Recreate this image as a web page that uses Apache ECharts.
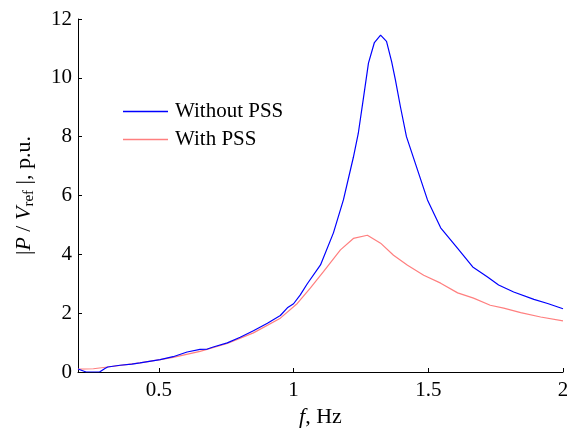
<!DOCTYPE html>
<html>
<head>
<meta charset="utf-8">
<script src="https://cdn.jsdelivr.net/npm/echarts@6/dist/echarts.min.js"></script>
<style>html,body{margin:0;padding:0;background:#fff}#c{width:567px;height:428px}</style>
</head>
<body>
<div id="c"></div>
<script>
const freqWithout = [0.2,0.215,0.23,0.28,0.3,0.31,0.356,0.4,0.43,0.505,0.553,0.605,0.653,0.68,0.702,0.754,0.802,0.851,0.903,0.951,0.977,1.0,1.025,1.051,1.10,1.148,1.185,1.222,1.24,1.26,1.278,1.30,1.323,1.345,1.364,1.378,1.397,1.419,1.46,1.497,1.546,1.609,1.665,1.72,1.761,1.817,1.892,1.943,2.0];
const magWithout = [0.1,0.05,0.0,0.0,0.12,0.17,0.23,0.27,0.31,0.42,0.52,0.68,0.77,0.78,0.85,0.99,1.18,1.4,1.66,1.92,2.18,2.32,2.62,3.0,3.64,4.73,5.85,7.3,8.1,9.35,10.5,11.2,11.45,11.24,10.55,9.93,9.0,8.0,6.87,5.85,4.9,4.2,3.57,3.23,2.96,2.72,2.47,2.33,2.15];
const freqWith = [0.2,0.257,0.31,0.43,0.505,0.553,0.653,0.754,0.851,0.951,1.014,1.062,1.111,1.174,1.222,1.274,1.323,1.371,1.423,1.483,1.546,1.609,1.668,1.73,1.78,1.843,1.917,2.0];
const magWith = [0.1,0.11,0.17,0.31,0.42,0.5,0.7,0.97,1.33,1.83,2.33,2.85,3.41,4.15,4.54,4.65,4.38,3.97,3.63,3.29,3.02,2.69,2.51,2.27,2.17,2.02,1.87,1.74];
const xTicks = [0.5,1,1.5,2];
const seriesNames = ['Without PSS','With PSS'];

const font = '"Liberation Serif","Times New Roman",serif';
const chart = echarts.init(document.getElementById('c'));
chart.setOption({
  animation:false,
  backgroundColor:'#fff',
  grid:{left:78,right:4,top:19,bottom:56,containLabel:false,outerBoundsMode:'none'},
  legend:{
    show:true, orient:'vertical', left:123, top:101, padding:0,
    icon:'rect', itemWidth:45, itemHeight:1.5, itemGap:7,
    textStyle:{fontFamily:font,fontSize:21,color:'#000',padding:[0,0,0,2]},
    data:seriesNames
  },
  xAxis:{
    type:'value', min:0.2, max:2,
    name:'{i|f}, Hz', nameLocation:'middle', nameGap:30,
    nameTextStyle:{fontFamily:font,fontSize:22,color:'#000',rich:{i:{fontStyle:'italic',fontFamily:font,fontSize:22}}},
    axisLine:{lineStyle:{color:'#000',width:1}},
    axisTick:{inside:true,length:4,lineStyle:{color:'#000'},customValues:xTicks},
    axisLabel:{fontFamily:font,fontSize:21,color:'#000',margin:8,customValues:xTicks},
    splitLine:{show:false}
  },
  yAxis:{
    type:'value', min:0, max:12, interval:2,
    name:'|{i|P} / {i|V}{sub|ref} |, p.u.', nameLocation:'middle', nameGap:41, nameRotate:90,
    nameTextStyle:{fontFamily:font,fontSize:22,color:'#000',
      rich:{i:{fontStyle:'italic',fontFamily:font,fontSize:22},sub:{fontFamily:font,fontSize:15,verticalAlign:'bottom',padding:[10,0,0,0]}}},
    axisLine:{show:true,lineStyle:{color:'#000',width:1}},
    axisTick:{show:true,inside:true,length:4,lineStyle:{color:'#000'}},
    axisLabel:{fontFamily:font,fontSize:21,color:'#000',margin:6},
    splitLine:{show:false}
  },
  series:[
    {name:seriesNames[0],type:'line',symbol:'none',data:freqWithout.map((f,i)=>[f,magWithout[i]]),lineStyle:{color:'#0000ff',width:1.2},itemStyle:{color:'#0000ff'},z:3},
    {name:seriesNames[1],type:'line',symbol:'none',data:freqWith.map((f,i)=>[f,magWith[i]]),lineStyle:{color:'#ff7f7f',width:1.2},itemStyle:{color:'#ff7f7f'},z:2}
  ]
});
</script>
</body>
</html>
